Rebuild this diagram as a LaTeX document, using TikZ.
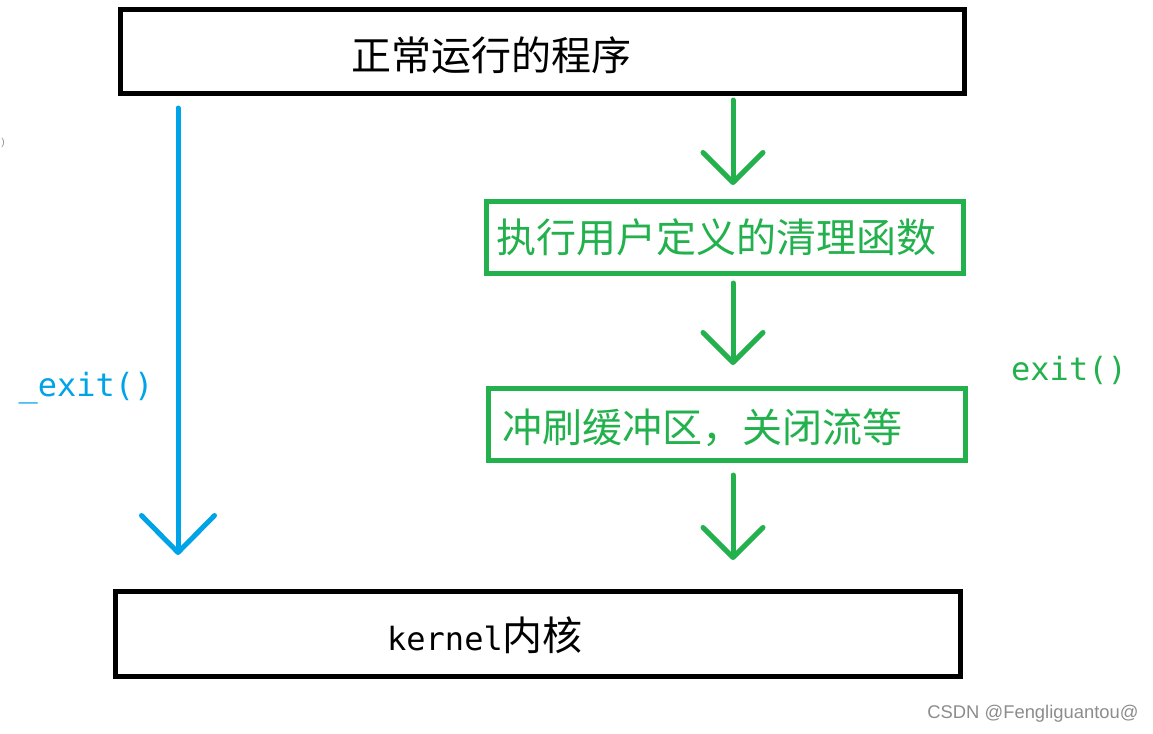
\documentclass[tikz,border=0pt]{standalone}
\usepackage{fontspec}
\setmainfont{Liberation Sans}
\newfontfamily\cjk{Noto Sans CJK SC}
\newfontfamily\mono{DejaVu Sans Mono}
\usetikzlibrary{arrows.meta, calc}

\begin{document}
\begin{tikzpicture}[
		x=0.5pt, y=-0.5pt,
		stage/.style={draw=#1, line width=2.5pt, outer sep=0pt, inner sep=0pt},
		flow/.style={draw=#1, line width=2.5pt, line cap=round, -{Straight Barb[length=15pt, width=30pt, round]}},
		cjktxt/.style={font=\fontsize{20}{24}\selectfont\cjk, text=#1, inner sep=0pt},
		call/.style={font=\fontsize{16}{19}\selectfont\mono, text=#1, inner sep=0pt}
		]
		\definecolor{exitblue}{HTML}{00A2E8}
		\definecolor{exitgreen}{HTML}{22B14C}
		\useasboundingbox (0,0) rectangle (1153,734);
		
		% Running program
		\node[stage=black, minimum width=422pt, minimum height=42pt] (prog) at (542.5,51.5) {};
		\node[cjktxt=black] (progtxt) at (491,55) {正常运行的程序};
		
		% Cleanup handlers
		\node[stage=exitgreen, minimum width=238.5pt, minimum height=36pt] (clean) at (725,237.5) {};
		\node[cjktxt=exitgreen, anchor=west] (cleantxt) at ([xshift=5pt]clean.west) {执行用户定义的清理函数};
		
		% Flush and close
		\node[stage=exitgreen, minimum width=238.75pt, minimum height=36pt] (flush) at (726.75,424.5) {};
		\node[cjktxt=exitgreen, anchor=west] (flushtxt) at ([xshift=7pt, yshift=-1.75pt]flush.west) {冲刷缓冲区，关闭流等};
		
		% Kernel
		\node[stage=black, minimum width=422.25pt, minimum height=42.5pt] (kern) at (537.75,634) {};
		\node[inner sep=0pt] (kerntxt) at (485,635) {{\fontsize{16}{19}\selectfont\mono kernel}{\fontsize{20}{24}\selectfont\cjk 内核}};
		
		% _exit() goes straight down
		\draw[flow=exitblue, -{Straight Barb[length=18.5pt, width=36.5pt, round]}] ($(prog.south west)+(57.5,14.5)$) -- ($(prog.south west |- kern.north)+(57.5,-36.5)$);
		\node[call=exitblue] (fastexit) at (86,388) {\_exit()};
		
		% exit() through the steps
		\draw[flow=exitgreen] ($(clean.north |- prog.south)+(8,6.5)$) -- ($(clean.north)+(8,-16.5)$);
		\draw[flow=exitgreen] ($(clean.south)+(8,9.5)$) -- ($(clean.south |- flush.north)+(8,-23.5)$);
		\draw[flow=exitgreen] ($(clean.south |- flush.south)+(8,14.5)$) -- ($(clean.south |- kern.north)+(8,-31.5)$);
		\node[call=exitgreen] (normexit) at (1069,370) {exit()};
		
		\node[font=\fontsize{5}{6}\selectfont, text=black!45, inner sep=0pt] (stray) at (3,143) {)};
		\node[font=\fontsize{9.2}{11}\selectfont, text=black!45, inner sep=0pt] (mark) at (1033,714) {CSDN @Fengliguantou@};
		
	\end{tikzpicture}
\end{document}
